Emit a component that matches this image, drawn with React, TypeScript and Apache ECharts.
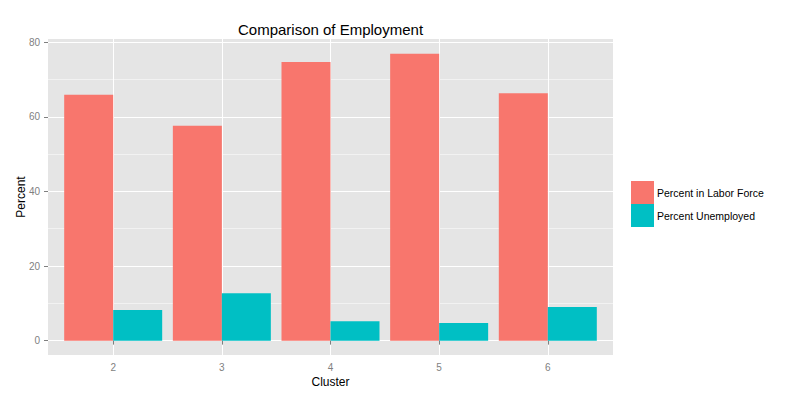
import React, { useEffect, useRef } from "react";
import * as echarts from "echarts";

const clusters = [2, 3, 4, 5, 6];
const laborForce = [65.9, 57.6, 74.7, 76.9, 66.3];
const unemployed = [8.2, 12.7, 5.2, 4.7, 9.0];
const yTicks = [0, 20, 40, 60, 80];
const yMinor = [10, 30, 50, 70];

export default function App() {
  const ref = useRef<HTMLDivElement>(null);
  useEffect(() => {
    if (!ref.current) return;
    const chart = echarts.init(ref.current, null, { renderer: "svg" });
    const font = "Liberation Sans, Arial, sans-serif";
    chart.setOption({
      animation: false,
      backgroundColor: "#FFFFFF",
      title: {
        text: "Comparison of Employment",
        left: 330.5,
        textAlign: "center",
        top: 22,
        padding: 0,
        textStyle: { fontFamily: font, fontSize: 15, fontWeight: "normal", color: "#000" },
      },
      legend: {
        orient: "vertical",
        left: 631,
        top: 181,
        padding: 0,
        itemWidth: 23,
        itemHeight: 23,
        itemGap: 0,
        icon: "rect",
        data: ["Percent in Labor Force", "Percent Unemployed"],
        textStyle: { fontFamily: font, fontSize: 10.5, color: "#000", padding: [0, 0, 0, -2] },
      },
      grid: {
        left: 48,
        top: 39,
        width: 565,
        height: 316,
        show: true,
        backgroundColor: "#E5E5E5",
        borderWidth: 0,
        containLabel: false,
        outerBoundsMode: "none",
      },
      xAxis: {
        type: "value",
        min: 1.4,
        max: 6.6,
        name: "Cluster",
        nameLocation: "middle",
        nameGap: 21,
        nameMoveOverlap: false,
        nameTextStyle: { fontFamily: font, fontSize: 12, color: "#000" },
        axisLine: { show: false },
        axisTick: { show: true, length: 4, customValues: clusters, lineStyle: { color: "#7F7F7F" } },
        axisLabel: {
          customValues: clusters,
          fontFamily: font,
          fontSize: 10,
          color: "#7F7F7F",
          margin: 7,
        },
        splitLine: { show: true, lineStyle: { color: "#FFFFFF", width: 1 } },
      },
      yAxis: [
        {
          type: "value",
          min: -3.85,
          max: 80.85,
          name: "Percent",
          nameLocation: "middle",
          nameGap: 21,
          nameMoveOverlap: false,
          nameTextStyle: { fontFamily: font, fontSize: 12, color: "#000" },
          axisLine: { show: false },
          axisTick: { show: true, length: 4, customValues: yTicks, lineStyle: { color: "#7F7F7F" } },
          axisLabel: {
            customValues: yTicks,
            fontFamily: font,
            fontSize: 10,
            color: "#7F7F7F",
            margin: 8,
          },
          splitLine: { show: true, lineStyle: { color: "#FFFFFF", width: 1 } },
        },
        {
          type: "value",
          min: -3.85,
          max: 80.85,
          position: "left",
          axisLine: { show: false },
          axisTick: { show: false, customValues: yMinor },
          axisLabel: { show: false, customValues: yMinor },
          splitLine: { show: true, lineStyle: { color: "#F2F2F2", width: 1 } },
        },
      ],
      series: [
        {
          name: "Percent in Labor Force",
          type: "bar",
          yAxisIndex: 0,
          barWidth: 49,
          barGap: "0%",
          itemStyle: { color: "#F8766D" },
          data: clusters.map((c, i) => [c, laborForce[i]]),
        },
        {
          name: "Percent Unemployed",
          type: "bar",
          yAxisIndex: 0,
          barWidth: 49,
          barGap: "0%",
          itemStyle: { color: "#00BFC4" },
          data: clusters.map((c, i) => [c, unemployed[i]]),
        },
      ],
    });
    return () => chart.dispose();
  }, []);
  return (
    <div
      ref={ref}
      style={{ position: "absolute", left: 0, top: 0, width: 800, height: 400 }}
    />
  );
}
